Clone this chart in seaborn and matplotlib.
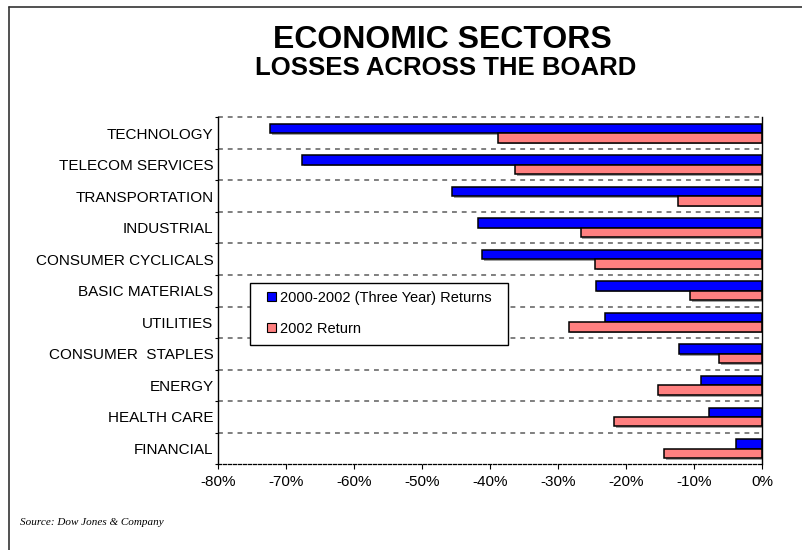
import numpy as np
import pandas as pd
import matplotlib
matplotlib.use("Agg")
import matplotlib.pyplot as plt
import matplotlib.patheffects as pe
from matplotlib.lines import Line2D
from matplotlib.patches import Rectangle, Patch
from matplotlib.ticker import FuncFormatter
import seaborn as sns

sectors = ["TECHNOLOGY", "TELECOM SERVICES", "TRANSPORTATION", "INDUSTRIAL",
           "CONSUMER CYCLICALS", "BASIC MATERIALS", "UTILITIES",
           "CONSUMER  STAPLES", "ENERGY", "HEALTH CARE", "FINANCIAL"]
three_year = [-72.4, -67.7, -45.6, -41.8, -41.2, -24.5, -23.1, -12.3, -9.0, -7.8, -3.8]
year_2002 = [-38.8, -36.3, -12.4, -26.7, -24.6, -10.6, -28.5, -6.3, -15.4, -21.8, -14.4]
series_names = ["2000-2002 (Three Year) Returns", "2002 Return"]
x_ticks = [-80, -70, -60, -50, -40, -30, -20, -10, 0]

df = pd.DataFrame({
    "sector": sectors * 2,
    "value": three_year + year_2002,
    "series": [series_names[0]] * len(sectors) + [series_names[1]] * len(sectors),
})

sns.set_theme(style="white")
plt.rcParams["font.family"] = ["Liberation Sans", "DejaVu Sans"]

fig = plt.figure(figsize=(8.03, 5.5), dpi=100)
ax = fig.add_axes([0.2719, 0.1558, 0.9493 - 0.2719, 0.7867 - 0.1558])

sns.barplot(data=df, y="sector", x="value", hue="series", order=sectors,
            hue_order=series_names, palette=["#0000FF", "#FF8080"],
            width=0.6, orient="h", ax=ax, edgecolor="black", linewidth=1.1,
            legend=False, saturation=1)

for p in ax.patches:
    p.set_path_effects([pe.SimplePatchShadow(offset=(1.2, -1.2), shadow_rgbFace="#888888", alpha=0.8), pe.Normal()])

ax.set_xlim(-80, 0)
ax.set_ylim(len(sectors) - 0.5, -0.5)
ax.set_xlabel("")
ax.set_ylabel("")
ax.set_xticks(x_ticks)
ax.xaxis.set_major_formatter(FuncFormatter(lambda v, pos: f"{int(round(v))}%"))
ax.tick_params(axis="x", which="major", direction="out", length=3.8, width=0.8,
               color="black", labelsize=11, pad=4, bottom=True)
ax.tick_params(axis="y", which="major", length=0, labelsize=11, pad=3.5, left=True)
ax.set_yticks(np.arange(-0.5, len(sectors), 1.0), minor=True)
ax.tick_params(axis="y", which="minor", direction="out", length=2.5, width=0.8, color="black", left=True)
for lbl in ax.get_xticklabels() + ax.get_yticklabels():
    lbl.set_color("black")

# dashed separators between categories
for yb in np.arange(-0.5, len(sectors) - 0.5, 1.0):
    ax.axhline(yb, color="#7a7a7a", linestyle=(0, (2.6, 2.6)), linewidth=1.35,
               zorder=0.5, clip_on=False)

ax.spines["top"].set_visible(False)
ax.spines["left"].set_color("black")
ax.spines["left"].set_linewidth(1.0)
ax.spines["right"].set_color("black")
ax.spines["right"].set_linewidth(1.0)
ax.spines["bottom"].set_color("black")
ax.spines["bottom"].set_linewidth(0.9)
ax.spines["bottom"].set_linestyle((0, (2.5, 1.5)))

# legend box
ax.add_patch(Rectangle((0.058, 0.343), 0.474, 0.1786, transform=ax.transAxes,
                       facecolor="white", edgecolor="black", linewidth=1.0, zorder=5))
handles = [Patch(facecolor="#0000FF", edgecolor="black", linewidth=0.8),
           Patch(facecolor="#FF8080", edgecolor="black", linewidth=0.8)]
leg = ax.legend(handles, series_names, loc="upper left", bbox_to_anchor=(0.090, 0.500),
                frameon=False, fontsize=10.5, handlelength=0.6, handleheight=0.6,
                handletextpad=0.25, labelspacing=1.15, borderpad=0, borderaxespad=0)
leg.set_zorder(6)
for t in leg.get_texts():
    t.set_color("black")

fig.text(0.551, 0.9122, "ECONOMIC SECTORS", ha="center", va="baseline",
         fontsize=23, fontweight="bold", color="black")
fig.text(0.555, 0.8636, "LOSSES ACROSS THE BOARD", ha="center", va="baseline",
         fontsize=18.5, fontweight="bold", color="black")
fig.text(0.025, 0.05, "Source: Dow Jones & Company", ha="left", va="center",
         fontsize=8, style="italic", family=["Liberation Serif", "DejaVu Serif"], color="black")

# partial figure border
fig.add_artist(Line2D([9 / 803, 9 / 803], [0, 1 - 7 / 550], transform=fig.transFigure,
                      color="#333333", linewidth=1.2))
fig.add_artist(Line2D([9 / 803, 1], [1 - 7 / 550, 1 - 7 / 550], transform=fig.transFigure,
                      color="#333333", linewidth=1.2))

fig.savefig("out.png", dpi=100, facecolor="white")
